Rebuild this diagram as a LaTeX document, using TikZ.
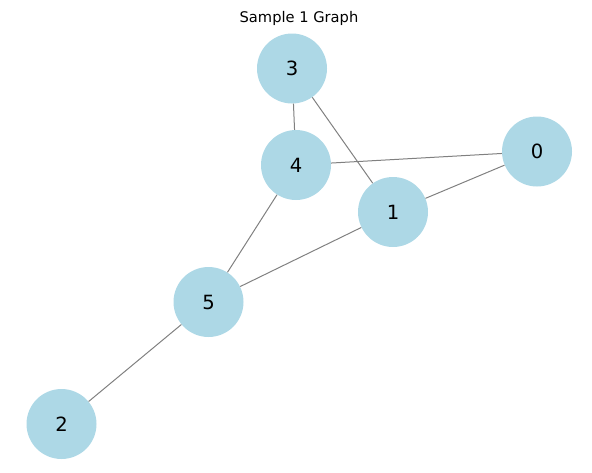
\documentclass[tikz,border=0pt]{standalone}
\usepackage{fontspec}
\setmainfont{DejaVu Sans}
\definecolor{nodeblue}{RGB}{173,216,230}
\definecolor{edgegray}{RGB}{128,128,128}

\begin{document}
\begin{tikzpicture}[x=0.75pt,y=-0.75pt,
  vertex/.style={circle,fill=nodeblue,minimum size=52.5pt,inner sep=0pt,font=\fontsize{14.7}{16}\selectfont},
  link/.style={draw=edgegray,line width=0.75pt}]
\useasboundingbox (0,0) rectangle (592,472);
% title
\node[font=\fontsize{11}{13}\selectfont] (title) at (299,18) {Sample 1 Graph};
% vertices
\node[vertex] (v0) at (537,151.5) {0};
\node[vertex] (v1) at (393,212) {1};
\node[vertex] (v2) at (61.5,424) {2};
\node[vertex] (v3) at (292,68.5) {3};
\node[vertex] (v4) at (296,165) {4};
\node[vertex] (v5) at (208.5,302) {5};
% edges
\foreach \a/\b in {3/4,3/1,4/0,0/1,4/5,1/5,5/2} { \draw[link] (v\a) -- (v\b); }
\end{tikzpicture}
\end{document}
